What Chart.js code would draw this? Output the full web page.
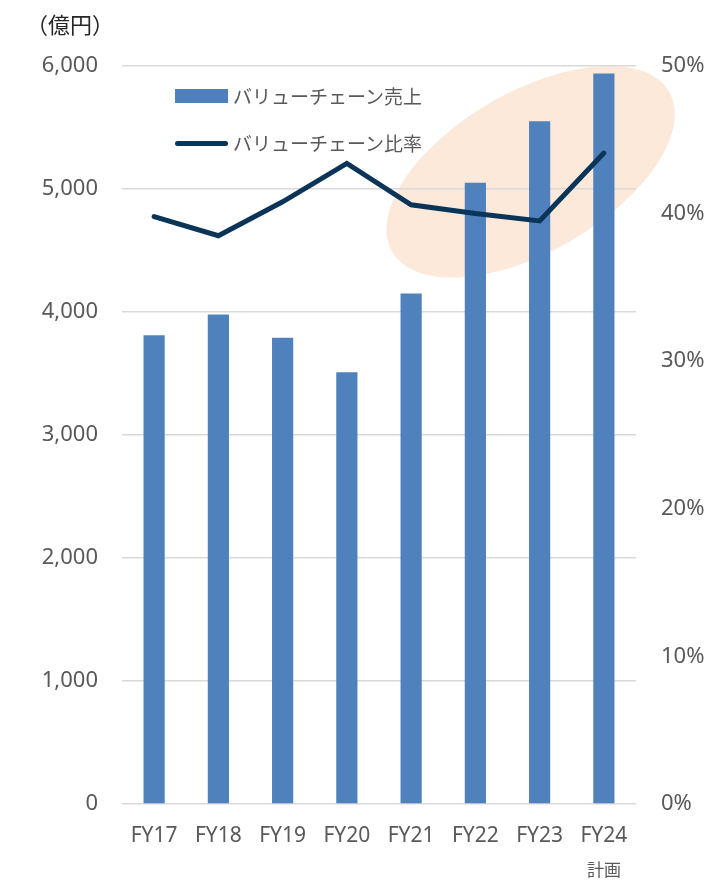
<!DOCTYPE html>
<html lang="ja">
<head>
<meta charset="utf-8">
<script src="https://cdn.jsdelivr.net/npm/chart.js@4/dist/chart.umd.min.js"></script>
<style>
    body { margin: 0; background: #fff; font-family: "Noto Sans", "Noto Sans CJK JP", sans-serif; }
    .wrap { position: relative; width: 707px; height: 881px; }
    .unit { position: absolute; left: 26px; top: 7px; font-size: 22px; color: #262626; }
    .legend { position: absolute; left: 175px; font-size: 19px; color: #595959; display: flex; align-items: center; }
    .legend .swatch { width: 53px; height: 14px; background: #4f81bd; margin-right: 5px; }
    .legend .ln { width: 53px; height: 5px; border-radius: 3px; background: #0b3558; margin-right: 5px; }
</style>
</head>
<body>
<div class="wrap">
    <canvas class="vc-chart" width="707" height="881"></canvas>
    <div class="unit">（億円）</div>
    <div class="legend" style="top: 82px;"><div class="swatch"></div>バリューチェーン売上</div>
    <div class="legend" style="top: 129px;"><div class="ln"></div>バリューチェーン比率</div>
</div>
<script>
const ctx = document.querySelector('.vc-chart');

// data
const years = ['FY17', 'FY18', 'FY19', 'FY20', 'FY21', 'FY22', 'FY23', 'FY24'];
const yearNotes = ['', '', '', '', '', '', '', '計画'];
const sales = [3810, 3980, 3790, 3510, 4150, 5050, 5550, 5940];
const ratio = [39.8, 38.5, 40.8, 43.4, 40.6, 40.0, 39.5, 44.1];
const salesTicks = [0, 1000, 2000, 3000, 4000, 5000, 6000];
const ratioTicks = [0, 10, 20, 30, 40, 50];

const fontFamily = '"Noto Sans", "Noto Sans CJK JP", sans-serif';

// peach ellipse behind the recent years
const highlight = {
    id: 'highlight',
    beforeDraw(chart) {
        const x = chart.scales.x;
        const y = chart.scales.y;
        const c = chart.ctx;
        c.save();
        c.fillStyle = '#fde9da';
        c.beginPath();
        c.ellipse(x.getPixelForValue(5.86), y.getPixelForValue(5140), 160, 80, -Math.PI / 6, 0, Math.PI * 2);
        c.fill();
        c.restore();
    }
};

// small note under a year label (FY24 計画)
const yearNote = {
    id: 'yearNote',
    afterDraw(chart) {
        const x = chart.scales.x;
        const c = chart.ctx;
        c.save();
        c.fillStyle = '#595959';
        c.font = '17px ' + fontFamily;
        c.textAlign = 'center';
        c.textBaseline = 'middle';
        yearNotes.forEach((note, i) => {
            if (note) c.fillText(note, x.getPixelForValue(i), 871);
        });
        c.restore();
    }
};

new Chart(ctx, {
    type: 'bar',
    data: {
        labels: years,
        datasets: [{
            type: 'line',
            label: 'バリューチェーン比率',
            data: ratio,
            yAxisID: 'y2',
            borderColor: '#0b3558',
            borderWidth: 5,
            borderCapStyle: 'round',
            pointRadius: 0,
            tension: 0,
            order: 1
        },
        {
            label: 'バリューチェーン売上',
            data: sales,
            yAxisID: 'y',
            backgroundColor: '#4f81bd',
            categoryPercentage: 1,
            barPercentage: 0.33,
            order: 2
        }
        ]
    },
    options: {
        responsive: false,
        animation: false,
        layout: {
            padding: { top: 66, left: 0, right: 0, bottom: 0 }
        },
        scales: {
            x: {
                grid: { display: false },
                border: { display: false },
                ticks: {
                    color: '#595959',
                    font: { family: fontFamily, size: 21 },
                    padding: 11,
                    maxRotation: 0,
                    autoSkip: false
                },
                afterFit(axis) { axis.height = 77; }
            },
            y: {
                position: 'left',
                min: 0,
                max: 6000,
                afterBuildTicks(axis) { axis.ticks = salesTicks.map(v => ({ value: v })); },
                grid: { color: '#d9d9d9', lineWidth: 1.5, drawTicks: false },
                border: { display: false },
                ticks: {
                    color: '#595959',
                    font: { family: fontFamily, size: 22 },
                    padding: 24,
                    callback: v => v.toLocaleString('en-US')
                },
                afterFit(axis) { axis.width = 122; }
            },
            y2: {
                position: 'right',
                min: 0,
                max: 50,
                afterBuildTicks(axis) { axis.ticks = ratioTicks.map(v => ({ value: v })); },
                grid: { display: false, drawTicks: false },
                border: { display: false },
                ticks: {
                    color: '#595959',
                    font: { family: fontFamily, size: 22 },
                    padding: 25,
                    callback: v => v + '%'
                },
                afterFit(axis) { axis.width = 71; }
            }
        },
        plugins: {
            legend: { display: false },
            tooltip: { enabled: false }
        }
    },
    plugins: [highlight, yearNote]
});
</script>
</body>
</html>
